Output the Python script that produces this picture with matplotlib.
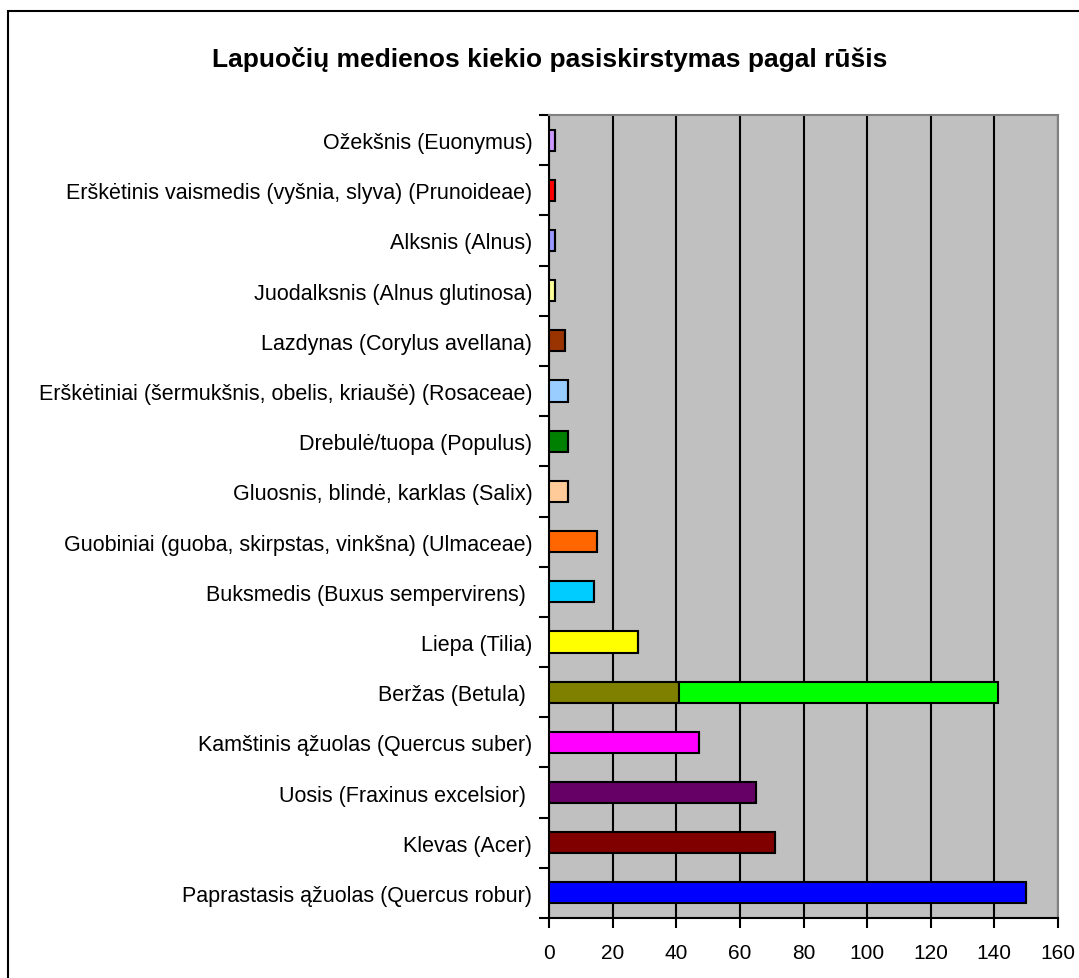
import matplotlib.pyplot as plt
from matplotlib.patches import Rectangle

plt.rcParams['font.family'] = ['Liberation Sans', 'DejaVu Sans']

# bottom to top
species = [
    "Paprastasis ąžuolas (Quercus robur)",
    "Klevas (Acer)",
    "Uosis (Fraxinus excelsior) ",
    "Kamštinis ąžuolas (Quercus suber)",
    "Beržas (Betula) ",
    "Liepa (Tilia)",
    "Buksmedis (Buxus sempervirens) ",
    "Guobiniai (guoba, skirpstas, vinkšna) (Ulmaceae)",
    "Gluosnis, blindė, karklas (Salix)",
    "Drebulė/tuopa (Populus)",
    "Erškėtiniai (šermukšnis, obelis, kriaušė) (Rosaceae)",
    "Lazdynas (Corylus avellana)",
    "Juodalksnis (Alnus glutinosa)",
    "Alksnis (Alnus)",
    "Erškėtinis vaismedis (vyšnia, slyva) (Prunoideae)",
    "Ožekšnis (Euonymus)",
]
values = [150, 71, 65, 47, 41, 28, 14, 15, 6, 6, 6, 5, 2, 2, 2, 2]
extra = [0, 0, 0, 0, 100, 0, 0, 0, 0, 0, 0, 0, 0, 0, 0, 0]
colors = ["#0000FF", "#800000", "#660066", "#FF00FF", "#808000", "#FFFF00",
          "#00CCFF", "#FF6600", "#FFCC99", "#008000", "#99CCFF", "#993300",
          "#FFFF99", "#9999FF", "#FF0000", "#CC99FF"]
extra_color = "#00FF00"
xticks = [0, 20, 40, 60, 80, 100, 120, 140, 160]

W, H = 1079, 979
fig = plt.figure(figsize=(W / 100, H / 100), dpi=100)
ax = fig.add_axes([549 / W, 1 - 919 / H, (1058 - 549) / W, (919 - 116) / H])
ax.set_facecolor("#C0C0C0")

ys = list(range(len(species)))
ax.barh(ys, values, height=0.42, color=colors, edgecolor="black", linewidth=1.5, zorder=3)
ax.barh(ys, extra, left=values, height=0.42, color=extra_color, edgecolor="black",
        linewidth=1.5, zorder=3)

ax.set_xlim(0, 160)
ax.set_ylim(-0.5, len(species) - 0.5)
ax.set_xticks(xticks)
ax.set_xticklabels([str(t) for t in xticks], fontsize=15)
ax.set_yticks(ys)
ax.set_yticklabels(species, fontsize=15.5)
ax.set_yticks([y - 0.5 for y in range(len(species) + 1)], minor=True)
ax.tick_params(axis="y", which="major", length=0, pad=12)
ax.tick_params(axis="y", which="minor", length=7, width=1.5, color="black")
ax.tick_params(axis="x", length=7, width=1.5, pad=11)
ax.grid(axis="x", color="black", linewidth=1.5, zorder=1)

ax.spines["left"].set_linewidth(1.5)
ax.spines["bottom"].set_linewidth(1.5)
ax.spines["top"].set_color("#808080")
ax.spines["right"].set_color("#808080")
ax.spines["top"].set_linewidth(1.5)
ax.spines["right"].set_linewidth(1.5)

fig.text(550 / W, 1 - 60 / H, "Lapuočių medienos kiekio pasiskirstymas pagal rūšis",
         ha="center", va="center", fontsize=19, fontweight="bold")

fig.patches.append(Rectangle((8 / W, -0.1), 1.2, 1.1 - 12 / H, transform=fig.transFigure,
                             fill=False, edgecolor="black", linewidth=1.5))

fig.savefig("out.png", dpi=100)
